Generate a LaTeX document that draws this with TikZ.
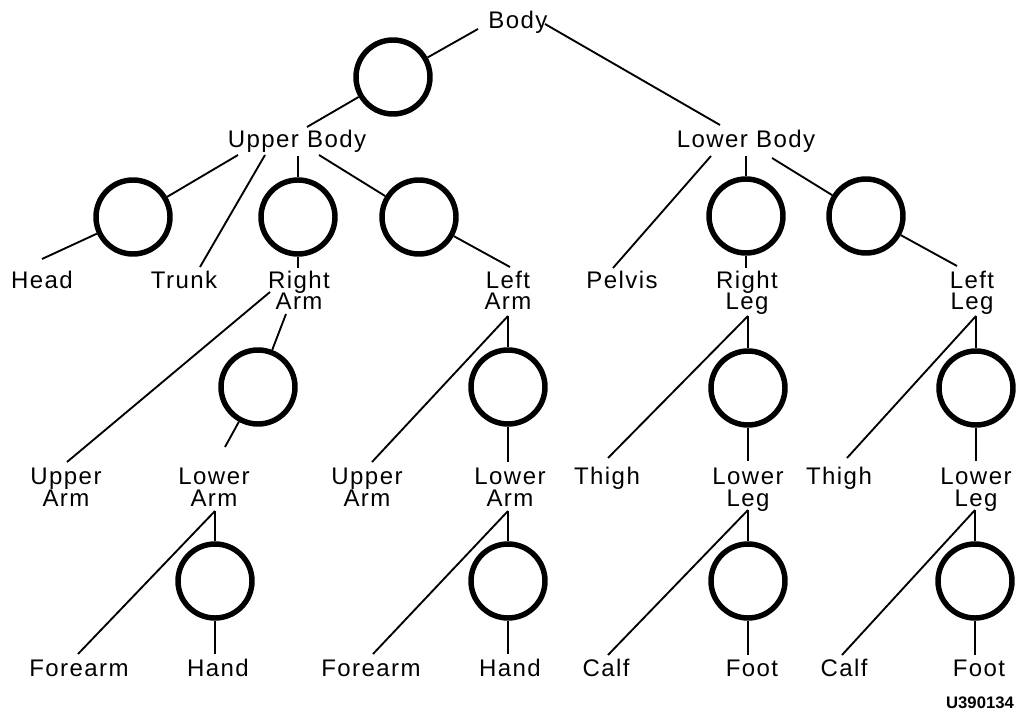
\documentclass[tikz,border=0pt]{standalone}
\usepackage{fontspec}
\setmainfont{Liberation Sans}[LetterSpace=6]
\newfontfamily\codefont{Liberation Sans}
\begin{document}
\begin{tikzpicture}[x=0.75pt,y=-0.75pt,
  lbl/.style={anchor=base,align=center,inner sep=0pt,font={\fontsize{18pt}{16.5pt}\selectfont}},
  ring/.style={circle,draw,line width=4.1pt,minimum size=55.5pt,inner sep=0pt},
  link/.style={line width=1.4pt}]
\useasboundingbox (0,0) rectangle (1018,713);
% labels (two-line labels are anchored at the baseline of their last line)
\node[lbl] (body) at (518,29) {Body};
\node[lbl] (ub) at (297,148) {Upper Body};
\node[lbl] (lb) at (746,148) {Lower Body};
\node[lbl] (head) at (42,288) {Head};
\node[lbl] (trunk) at (184,288) {Trunk};
\node[lbl] (rarm) at (299,310) {Right\\Arm};
\node[lbl] (larm) at (508,310) {Left\\Arm};
\node[lbl] (pelvis) at (622,288) {Pelvis};
\node[lbl] (rleg) at (747,310) {Right\\Leg};
\node[lbl] (lleg) at (972,310) {Left\\Leg};
\node[lbl] (rua) at (66,506) {Upper\\Arm};
\node[lbl] (rla) at (214,506) {Lower\\Arm};
\node[lbl] (lua) at (367,506) {Upper\\Arm};
\node[lbl] (lla) at (510,506) {Lower\\Arm};
\node[lbl] (rth) at (607,484) {Thigh};
\node[lbl] (rll) at (748,506) {Lower\\Leg};
\node[lbl] (lth) at (839,484) {Thigh};
\node[lbl] (lll) at (976,506) {Lower\\Leg};
\node[lbl] (rfa) at (79,676) {Forearm};
\node[lbl] (rh) at (218,676) {Hand};
\node[lbl] (lfa) at (371,676) {Forearm};
\node[lbl] (lh) at (510,676) {Hand};
\node[lbl] (rc) at (606,676) {Calf};
\node[lbl] (rf) at (752,676) {Foot};
\node[lbl] (lc) at (844,676) {Calf};
\node[lbl] (lf) at (979,676) {Foot};
\node[anchor=base,inner sep=0pt,font={\codefont\bfseries\fontsize{12.5pt}{14pt}\selectfont}] (code) at (980,708) {U390134};
% rings
\node[ring] (c0) at (393,77) {};
\node[ring] (c1) at (133,217) {};
\node[ring] (c2) at (298,217) {};
\node[ring] (c3) at (419,217) {};
\node[ring] (c4) at (746,216) {};
\node[ring] (c5) at (866,216) {};
\node[ring] (c6) at (258,387) {};
\node[ring] (c7) at (508,387) {};
\node[ring] (c8) at (748,388) {};
\node[ring] (c9) at (976,388) {};
\node[ring] (c10) at (215,581) {};
\node[ring] (c11) at (508,581) {};
\node[ring] (c12) at (748,581) {};
\node[ring] (c13) at (975,581) {};
% connector ends at labels
\coordinate (body-a) at (478,29);
\coordinate (body-b) at (545,24);
\coordinate (ub-t) at (307,127);
\coordinate (lb-t) at (720,125);
\coordinate (ub-1) at (238,155);
\coordinate (ub-2) at (265,155);
\coordinate (ub-3) at (298,156);
\coordinate (ub-4) at (319,155);
\coordinate (head-t) at (42,259);
\coordinate (trunk-t) at (200,267);
\coordinate (rarm-t) at (298,268);
\coordinate (larm-t) at (510,267);
\coordinate (lb-1) at (711,156);
\coordinate (lb-2) at (746,156);
\coordinate (lb-3) at (772,158);
\coordinate (pelvis-t) at (613,268);
\coordinate (rleg-t) at (746,268);
\coordinate (lleg-t) at (957,266);
\coordinate (rarm-1) at (270,292);
\coordinate (rarm-2) at (286,314);
\coordinate (rua-t) at (67,462);
\coordinate (rla-t) at (225,447);
\coordinate (larm-b) at (508,316);
\coordinate (lua-t) at (372,462);
\coordinate (lla-t) at (508,462);
\coordinate (rleg-b) at (748,316);
\coordinate (rth-t) at (608,458);
\coordinate (rll-t) at (748,461);
\coordinate (lleg-b) at (976,316);
\coordinate (lth-t) at (847,458);
\coordinate (lll-t) at (976,461);
\coordinate (rla-b) at (215,511);
\coordinate (rfa-t) at (78,654);
\coordinate (rh-t) at (215,654);
\coordinate (lla-b) at (508,511);
\coordinate (lfa-t) at (373,654);
\coordinate (lh-t) at (508,654);
\coordinate (rll-b) at (748,510);
\coordinate (rc-t) at (608,655);
\coordinate (rf-t) at (748,655);
\coordinate (lll-b) at (975,510);
\coordinate (lc-t) at (842,655);
\coordinate (lf-t) at (975,655);
% connectors
\draw[link] (body-a) -- (c0);
\draw[link] (c0) -- (ub-t);
\draw[link] (body-b) -- (lb-t);
\draw[link] (ub-1) -- (c1);
\draw[link] (ub-2) -- (trunk-t);
\draw[link] (ub-3) -- (c2);
\draw[link] (ub-4) -- (c3);
\draw[link] (c1) -- (head-t);
\draw[link] (c2) -- (rarm-t);
\draw[link] (c3) -- (larm-t);
\draw[link] (lb-1) -- (pelvis-t);
\draw[link] (lb-2) -- (c4);
\draw[link] (lb-3) -- (c5);
\draw[link] (c4) -- (rleg-t);
\draw[link] (c5) -- (lleg-t);
\draw[link] (rarm-1) -- (rua-t);
\draw[link] (rarm-2) -- (c6);
\draw[link] (c6) -- (rla-t);
\draw[link] (larm-b) -- (lua-t);
\draw[link] (larm-b) -- (c7);
\draw[link] (c7) -- (lla-t);
\draw[link] (rleg-b) -- (rth-t);
\draw[link] (rleg-b) -- (c8);
\draw[link] (c8) -- (rll-t);
\draw[link] (lleg-b) -- (lth-t);
\draw[link] (lleg-b) -- (c9);
\draw[link] (c9) -- (lll-t);
\draw[link] (rla-b) -- (rfa-t);
\draw[link] (rla-b) -- (c10);
\draw[link] (c10) -- (rh-t);
\draw[link] (lla-b) -- (lfa-t);
\draw[link] (lla-b) -- (c11);
\draw[link] (c11) -- (lh-t);
\draw[link] (rll-b) -- (rc-t);
\draw[link] (rll-b) -- (c12);
\draw[link] (c12) -- (rf-t);
\draw[link] (lll-b) -- (lc-t);
\draw[link] (lll-b) -- (c13);
\draw[link] (c13) -- (lf-t);
\end{tikzpicture}
\end{document}
